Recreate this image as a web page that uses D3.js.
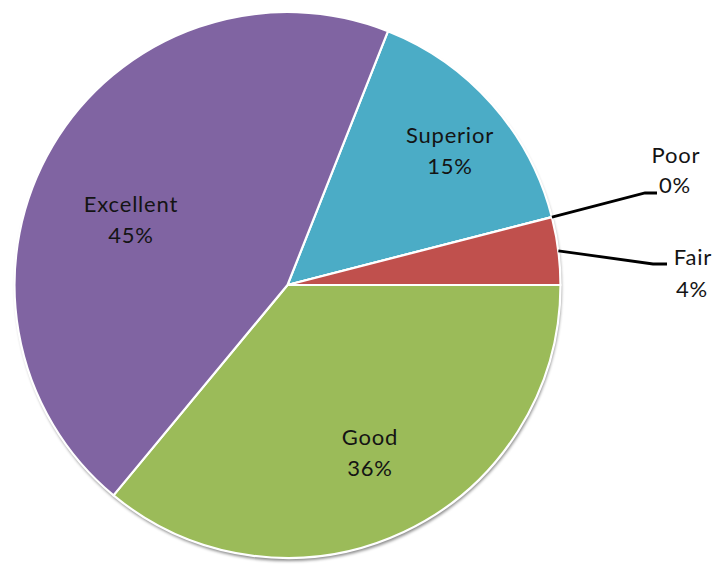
<!DOCTYPE html>
<html>
<head>
<meta charset="utf-8">
<script src="https://cdn.jsdelivr.net/npm/d3@7"></script>
<style>
  html, body { margin: 0; padding: 0; background: #ffffff; }
  svg { display: block; }
  text { font-family: Lato, "Open Sans", sans-serif; fill: #141414; letter-spacing: 0.8px; }
</style>
</head>
<body>
<svg id="chart" width="713" height="566"></svg>
<script>
// Rating shares, in drawing order (clockwise)
const categories = ["Superior", "Poor", "Fair", "Good", "Excellent"];
const values = [15, 0, 4, 36, 45];
const colors = ["#4BACC6", "#F79646", "#C0504D", "#9BBB59", "#8064A2"];

const W = 713, H = 566;
const cx = 287.5, cy = 285, R = 273;
const startDeg = 21.6;

const svg = d3.select("#chart");

const defs = svg.append("defs");
const shadow = defs.append("filter").attr("id", "pieShadow")
  .attr("x", "-10%").attr("y", "-10%").attr("width", "120%").attr("height", "120%");
shadow.append("feDropShadow")
  .attr("dx", 1).attr("dy", 3).attr("stdDeviation", 1.6)
  .attr("flood-color", "#000").attr("flood-opacity", 0.45);

const total = d3.sum(values);
const data = categories.map((c, i) => ({ name: c, value: values[i], color: colors[i] }));

const pie = d3.pie()
  .value(d => d.value)
  .sort(null)
  .startAngle(startDeg * Math.PI / 180)
  .endAngle(startDeg * Math.PI / 180 + 2 * Math.PI);

const arcs = pie(data);
const arc = d3.arc().innerRadius(0).outerRadius(R);

const g = svg.append("g").attr("transform", `translate(${cx},${cy})`);

// shadow disc under the slices
g.append("circle").attr("r", R).attr("fill", "#ffffff").attr("filter", "url(#pieShadow)");

g.selectAll("path.slice")
  .data(arcs)
  .join("path")
  .attr("class", "slice")
  .attr("d", arc)
  .attr("fill", d => d.data.color)
  .attr("stroke", "#ffffff")
  .attr("stroke-width", 2.2)
  .attr("stroke-linejoin", "round");

const pct = d => Math.round(d.data.value / total * 100) + "%";

// labels placed inside the larger slices
const insideLabels = {
  "Superior": [450, 143],
  "Excellent": [131, 212],
  "Good": [370, 445]
};
// labels placed outside, with leader lines
const outsideLabels = {
  "Poor": { text: [676, 163], elbow: [645, 193], end: [657, 193] },
  "Fair": { text: [693, 265], elbow: [653, 264], end: [667, 264] }
};

const fontSize = 22;
const lineGap = 31;

arcs.forEach(d => {
  const name = d.data.name;
  if (insideLabels[name]) {
    const [x, y] = insideLabels[name];
    const t = svg.append("text").attr("text-anchor", "middle").attr("font-size", fontSize);
    t.append("tspan").attr("x", x).attr("y", y).text(name);
    t.append("tspan").attr("x", x).attr("y", y + lineGap).text(pct(d));
  } else if (outsideLabels[name]) {
    const o = outsideLabels[name];
    const mid = (d.startAngle + d.endAngle) / 2;
    const p0 = [cx + R * Math.sin(mid), cy - R * Math.cos(mid)];
    svg.append("polyline")
      .attr("points", [p0, o.elbow, o.end].map(p => p.join(",")).join(" "))
      .attr("fill", "none")
      .attr("stroke", "#000")
      .attr("stroke-width", 2.8);
    const [x, y] = o.text;
    const t = svg.append("text").attr("text-anchor", "middle").attr("font-size", fontSize);
    t.append("tspan").attr("x", x).attr("y", y).text(name);
    t.append("tspan").attr("x", x - 1).attr("y", y + lineGap + (name === "Fair" ? 1 : -1)).text(pct(d));
  }
});
</script>
</body>
</html>
